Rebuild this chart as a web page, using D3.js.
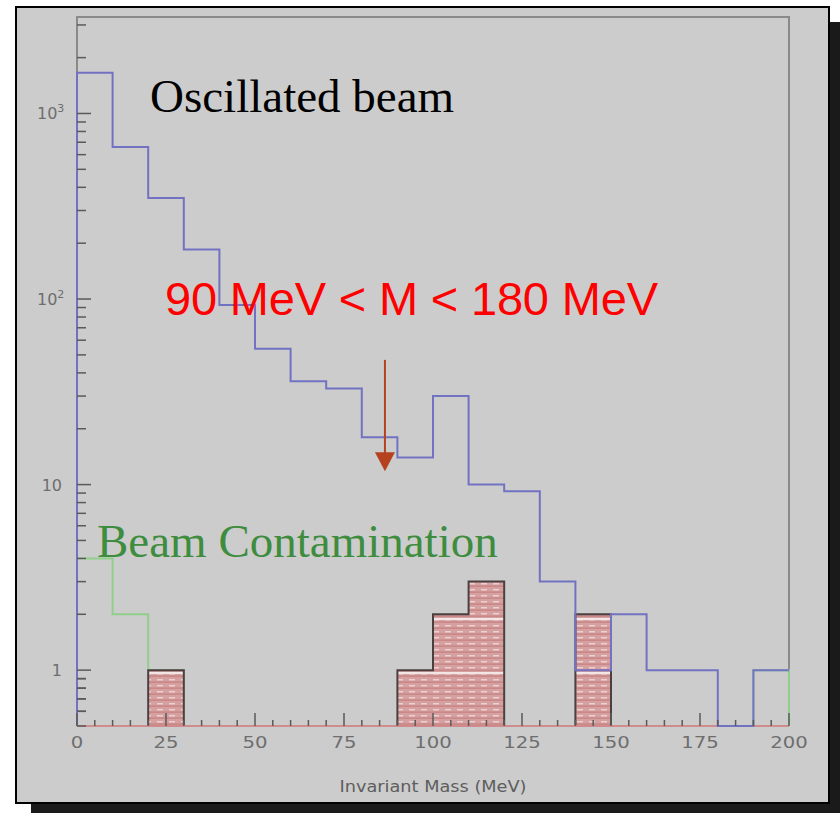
<!DOCTYPE html>
<html>
<head>
<meta charset="utf-8">
<script src="https://cdn.jsdelivr.net/npm/d3@7"></script>
<style>
  body { margin: 0; background: #fff; }
  svg { display: block; }
</style>
</head>
<body>
<div id="chart"></div>
<script>
// bins of 10 MeV, lower edges
binStart = [0, 10, 20, 30, 40, 50, 60, 70, 80, 90, 100, 110, 120, 130, 140, 150, 160, 170, 180, 190]
// oscillated beam (blue outline)
oscillated = [1660, 660, 350, 185, 93, 54, 36, 33, 18, 14, 30, 10, 9.2, 3, 1, 2, 1, 1, 0, 1]
// beam contamination (green outline)
contamination = [4, 2, 1, 0, 0, 0, 0, 0, 0, 0, 0, 0, 0, 0, 0, 0, 0, 0, 0, 1]
// hatched histogram
selected = [0, 0, 1, 0, 0, 0, 0, 0, 0, 1, 2, 3, 0, 0, 2, 0, 0, 0, 0, 0]

xTicks = [0, 25, 50, 75, 100, 125, 150, 175, 200]
yTicks = [{v: 1000, base: "10", sup: "3"}, {v: 100, base: "10", sup: "2"}, {v: 10, base: "10", sup: ""}, {v: 1, base: "1", sup: ""}]

W = 840, H = 813
plot = {left: 77, right: 789, top: 17, bottom: 726}
binW = 10
yMin = 0.5

svg = d3.select("#chart").append("svg")
  .attr("width", W).attr("height", H)

// panel with shadow
svg.append("rect").attr("x", 31).attr("y", 22).attr("width", 809).attr("height", 791).attr("fill", "#1a1a1a")
svg.append("rect").attr("x", 16).attr("y", 7).attr("width", 813).attr("height", 796)
  .attr("fill", "#cccccc").attr("stroke", "#000").attr("stroke-width", 2)

x = d3.scaleLinear().domain([0, 200]).range([plot.left, plot.right])
y = d3.scaleLog().domain([yMin, 3311]).range([plot.bottom, plot.top])

// hatch pattern
defs = svg.append("defs")
pat = defs.append("pattern").attr("id", "hatch")
  .attr("patternUnits", "userSpaceOnUse").attr("width", 12).attr("height", 54)
  .attr("x", 0).attr("y", plot.bottom)
pat.append("rect").attr("width", 12).attr("height", 54).attr("fill", "#d6a0a0")
d3.range(9).forEach(function(i) {
  pat.append("rect").attr("x", 1).attr("y", i * 6 + 1).attr("width", 6).attr("height", 1.5).attr("fill", "#ecd0d0")
  pat.append("rect").attr("x", 0).attr("y", i * 6 + 3.5).attr("width", 12).attr("height", 1.2).attr("fill", "#c47f7f")
})
pat.append("rect").attr("x", 0).attr("y", 0).attr("width", 12).attr("height", 2).attr("fill", "#f3e6e6")

// frame
svg.append("path")
  .attr("d", `M${plot.left},${plot.bottom}V${plot.top}H${plot.right}V${plot.bottom}`)
  .attr("fill", "none").attr("stroke", "#8a8a8a").attr("stroke-width", 2)

function val(v) { return v > 0 ? v : yMin }

function stepPath(values, closeRight) {
  p = d3.path()
  p.moveTo(x(binStart[0]), y(yMin))
  values.forEach(function(v, i) {
    p.lineTo(x(binStart[i]), y(val(v)))
    p.lineTo(x(binStart[i] + binW), y(val(v)))
  })
  if (closeRight) p.lineTo(x(binStart[binStart.length - 1] + binW), y(yMin))
  return p.toString()
}

// green: beam contamination
svg.append("path").attr("d", stepPath(contamination, true))
  .attr("fill", "none").attr("stroke", "#8fcf8a").attr("stroke-width", 2)

// hatched histogram: one outlined shape per run of non-empty bins
runs = []
selected.forEach(function(v, i) {
  if (v <= 0) return
  if (runs.length && runs[runs.length - 1].end === i - 1) runs[runs.length - 1].end = i
  else runs.push({start: i, end: i})
})
svg.selectAll(".sel")
  .data(runs)
  .join("path")
    .attr("class", "sel")
    .attr("d", function(r) {
      p = d3.path()
      p.moveTo(x(binStart[r.start]), y(yMin))
      for (i = r.start; i <= r.end; i++) {
        p.lineTo(x(binStart[i]), y(selected[i]))
        p.lineTo(x(binStart[i] + binW), y(selected[i]))
      }
      p.lineTo(x(binStart[r.end] + binW), y(yMin))
      return p.toString()
    })
    .attr("fill", "url(#hatch)")
    .attr("stroke", "#4a4040").attr("stroke-width", 2)

// red baseline
svg.append("line").attr("x1", plot.left).attr("x2", plot.right)
  .attr("y1", plot.bottom).attr("y2", plot.bottom)
  .attr("stroke", "#d08c8c").attr("stroke-width", 2)

// blue: oscillated beam
svg.append("path").attr("d", stepPath(oscillated, false))
  .attr("fill", "none").attr("stroke", "#7272c2").attr("stroke-width", 2)

// x axis ticks (inward)
xg = svg.append("g")
d3.range(0, 201, 5).forEach(function(t) {
  major = t % 25 === 0
  xg.append("line").attr("x1", x(t)).attr("x2", x(t))
    .attr("y1", plot.bottom).attr("y2", plot.bottom - (major ? 13 : 6))
    .attr("stroke", "#5a5a5a").attr("stroke-width", 1.5)
})
xg.selectAll("text").data(xTicks).join("text")
  .attr("x", d => x(d)).attr("y", 748)
  .attr("text-anchor", "middle")
  .style("font-family", "DejaVu Sans, sans-serif").style("font-size", "16px")
  .attr("fill", "#6e6e6e")
  .attr("textLength", d => String(d).length * 12.5).attr("lengthAdjust", "spacingAndGlyphs")
  .text(d => d)
svg.append("text").attr("x", 433).attr("y", 792).attr("text-anchor", "middle")
  .style("font-family", "DejaVu Sans, sans-serif").style("font-size", "16px")
  .attr("fill", "#5e5e5e")
  .attr("textLength", 187).attr("lengthAdjust", "spacingAndGlyphs")
  .text("Invariant Mass (MeV)")

// y axis ticks (log, inward)
yg = svg.append("g")
y.ticks().concat([0.6, 0.7, 0.8, 0.9]).forEach(function(t) {
  if (t < yMin || t > 3311) return
  lg = Math.log10(t)
  major = Math.abs(lg - Math.round(lg)) < 1e-9
  yg.append("line").attr("x1", plot.left).attr("x2", plot.left + (major ? 14 : 9))
    .attr("y1", y(t)).attr("y2", y(t))
    .attr("stroke", "#5a5a5a").attr("stroke-width", 1.5)
})
yLab = yg.selectAll("text").data(yTicks).join("text")
  .attr("y", d => y(d.v) + 6)
  .style("font-family", "DejaVu Sans, sans-serif").style("font-size", "16px")
  .attr("fill", "#6e6e6e")
yLab.each(function(d) {
  t = d3.select(this)
  if (d.sup) {
    t.attr("x", 37)
    t.append("tspan").text(d.base)
    t.append("tspan").attr("dy", -7).style("font-size", "11px").text(d.sup)
  } else {
    t.attr("x", 62).attr("text-anchor", "end").text(d.base)
  }
})

// annotations
svg.append("text").attr("x", 150).attr("y", 112)
  .style("font-family", "Liberation Serif, Times New Roman, serif").style("font-size", "47px")
  .attr("fill", "#000").text("Oscillated beam")

svg.append("text").attr("x", 165).attr("y", 315)
  .style("font-family", "Liberation Sans, Arial, sans-serif").style("font-size", "47px")
  .attr("fill", "#ff0000")
  .attr("textLength", 493).attr("lengthAdjust", "spacing")
  .text("90 MeV < M < 180 MeV")

svg.append("text").attr("x", 97).attr("y", 557)
  .style("font-family", "Liberation Serif, Times New Roman, serif").style("font-size", "47px")
  .attr("fill", "#3e8c3e").text("Beam Contamination")

// arrow
arrowX = 86.5
svg.append("line").attr("x1", x(arrowX)).attr("x2", x(arrowX))
  .attr("y1", y(47)).attr("y2", y(14))
  .attr("stroke", "#b5421f").attr("stroke-width", 2)
ax = x(arrowX), ay = y(11.8)
svg.append("path")
  .attr("d", `M${ax - 10},${ay - 19}L${ax + 10},${ay - 19}L${ax},${ay}Z`)
  .attr("fill", "#b5421f")
</script>
</body>
</html>
